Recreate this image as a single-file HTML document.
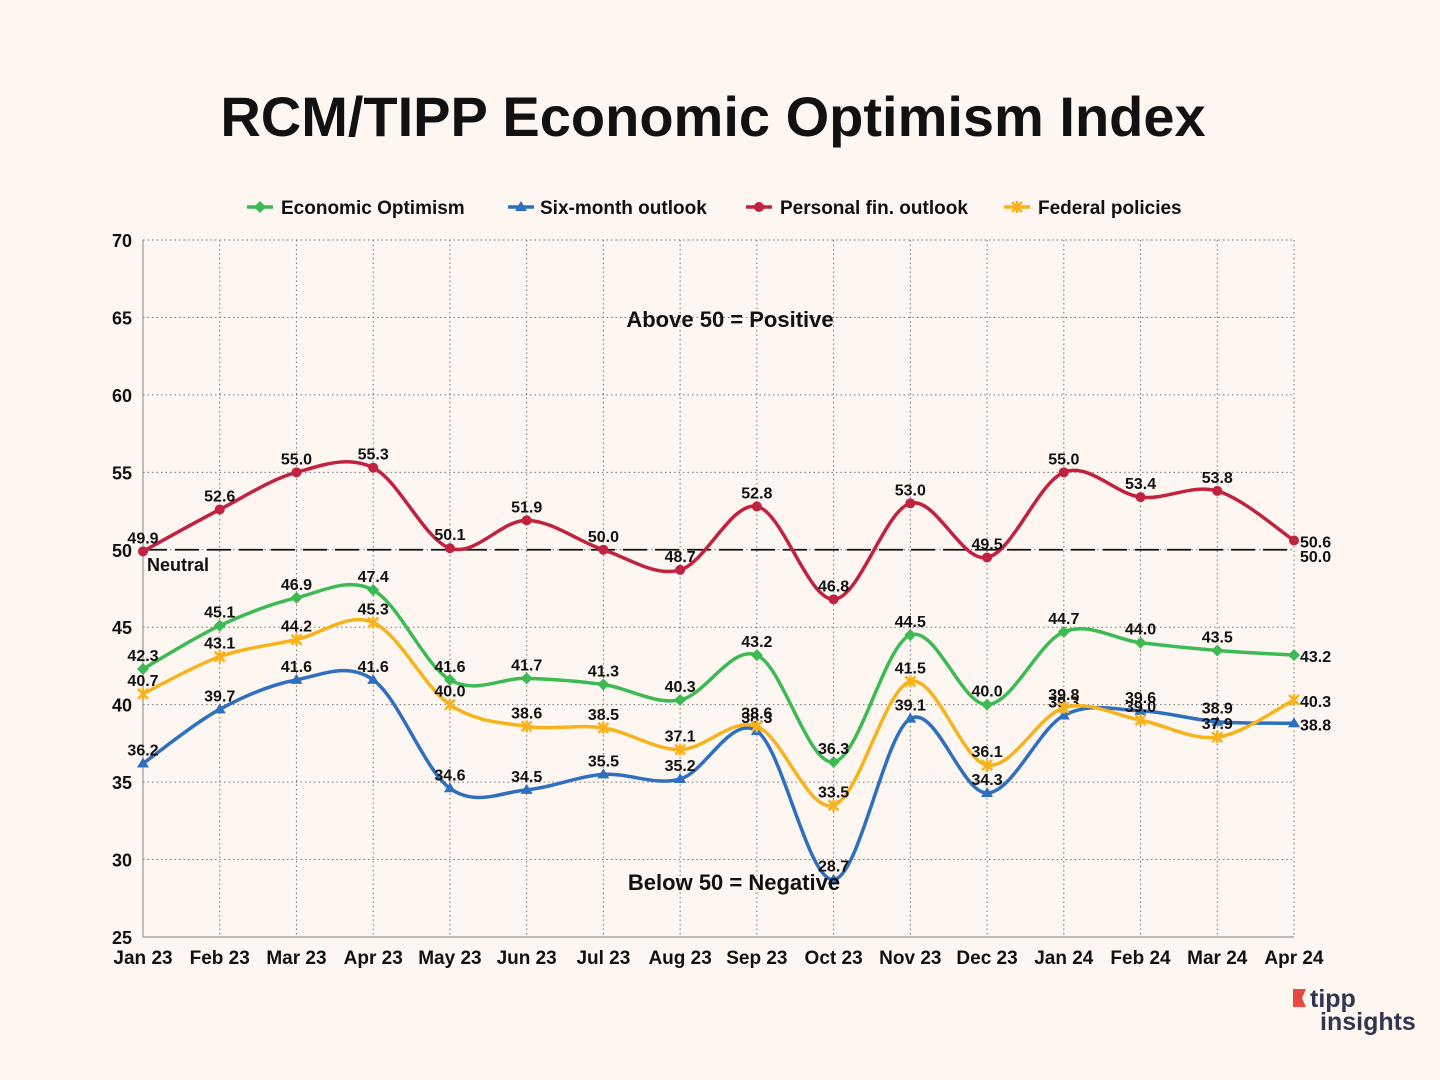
<!DOCTYPE html>
<html><head><meta charset="utf-8"><style>
body{margin:0;background:#fdf6f1;}
svg{display:block;font-family:"Liberation Sans",sans-serif;}
</style></head><body>
<svg width="1440" height="1080">
<rect width="1440" height="1080" fill="#fdf6f1"/>
<text x="713" y="136" text-anchor="middle" font-size="56" font-weight="bold" fill="#111">RCM/TIPP Economic Optimism Index</text>
<g id="grid"></g><g id="series"></g><g id="legend"></g>
<text x="730" y="327" text-anchor="middle" font-size="22" font-weight="bold" fill="#111">Above 50 = Positive</text>
<text x="734" y="890" text-anchor="middle" font-size="22" font-weight="bold" fill="#111">Below 50 = Negative</text>
<text x="147" y="571" font-size="18" font-weight="bold" fill="#111">Neutral</text>
<text x="1300" y="562" font-size="16" font-weight="bold" fill="#111">50.0</text>
<g>
<polygon points="1293,989 1306,989 1302,998 1306,1007 1293,1007" fill="#e8483f"/>
<text x="1310" y="1007" font-size="25" font-weight="bold" fill="#2f3650">tipp</text>
<text x="1320" y="1030" font-size="25" font-weight="bold" fill="#2f3650">insights</text>
</g>
</svg>
<script>
const categories=["Jan 23","Feb 23","Mar 23","Apr 23","May 23","Jun 23","Jul 23","Aug 23","Sep 23","Oct 23","Nov 23","Dec 23","Jan 24","Feb 24","Mar 24","Apr 24"];
const econ=[42.3,45.1,46.9,47.4,41.6,41.7,41.3,40.3,43.2,36.3,44.5,40.0,44.7,44.0,43.5,43.2];
const sixMonth=[36.2,39.7,41.6,41.6,34.6,34.5,35.5,35.2,38.3,28.7,39.1,34.3,39.3,39.6,38.9,38.8];
const personal=[49.9,52.6,55.0,55.3,50.1,51.9,50.0,48.7,52.8,46.8,53.0,49.5,55.0,53.4,53.8,50.6];
const federal=[40.7,43.1,44.2,45.3,40.0,38.6,38.5,37.1,38.6,33.5,41.5,36.1,39.8,39.0,37.9,40.3];
const yTicks=[25,30,35,40,45,50,55,60,65,70];
const NS="http://www.w3.org/2000/svg";
const X0=143,X1=1294,Y0=937,Y1=240;
const xS=i=>X0+i*(X1-X0)/(categories.length-1);
const yS=v=>Y0-(v-25)*(Y0-Y1)/45;
function mk(t,a,p){const e=document.createElementNS(NS,t);for(const k in a)e.setAttribute(k,a[k]);p.appendChild(e);return e;}
const grid=document.getElementById('grid');
yTicks.forEach(v=>{
 if(v>25){const l=mk('line',{x1:X0,x2:X1,y1:yS(v),y2:yS(v),stroke:'#777','stroke-dasharray':'1.5 3','stroke-width':1},grid);
 
 }
 const t=mk('text',{x:132,y:yS(v)+7,'text-anchor':'end','font-size':18,'font-weight':'bold',fill:'#111'},grid);t.textContent=v;
 
 
});
categories.forEach((c,i)=>{
 if(i>0){const l=mk('line',{x1:xS(i),x2:xS(i),y1:Y1,y2:Y0,stroke:'#777','stroke-dasharray':'1.5 3','stroke-width':1},grid);
 
 }
 const t=mk('text',{x:xS(i),y:964,'text-anchor':'middle','font-size':19,'font-weight':'bold',fill:'#111'},grid);t.textContent=c;
 
 
});
const ax=mk('path',{d:`M${X0},${Y1}V${Y0}H${X1}`,stroke:'#999',fill:'none','stroke-width':1.2},grid);


const nl=mk('line',{x1:X0,x2:X1,y1:yS(50),y2:yS(50),stroke:'#111','stroke-width':1.8,'stroke-dasharray':'24 8'},grid);


function smooth(pts){let d=`M${pts[0][0]},${pts[0][1]}`;for(let i=0;i<pts.length-1;i++){const p0=pts[i-1]||pts[i],p1=pts[i],p2=pts[i+1],p3=pts[i+2]||p2;const t=1/6;d+=`C${p1[0]+(p2[0]-p0[0])*t},${p1[1]+(p2[1]-p0[1])*t} ${p2[0]-(p3[0]-p1[0])*t},${p2[1]-(p3[1]-p1[1])*t} ${p2[0]},${p2[1]}`;}return d;}
function marker(g,x,y,type,col){
 if(type==='diamond')return mk('polygon',{points:`${x},${y-6} ${x+6},${y} ${x},${y+6} ${x-6},${y}`,fill:col},g);
 if(type==='tri')return mk('polygon',{points:`${x},${y-6} ${x+6},${y+4} ${x-6},${y+4}`,fill:col},g);
 if(type==='circle')return mk('circle',{cx:x,cy:y,r:5,fill:col},g);
 const p=mk('path',{d:`M${x-5},${y-5}L${x+5},${y+5}M${x+5},${y-5}L${x-5},${y+5}M${x},${y-6}V${y+6}`,stroke:col,'stroke-width':2.5},g);return p;
}
const S=[['economic-optimism',econ,'#3cba54','diamond','Economic Optimism'],['six-month-outlook',sixMonth,'#2f6fc0','tri','Six-month outlook'],['personal-fin-outlook',personal,'#c0223f','circle','Personal fin. outlook'],['federal-policies',federal,'#f8b21c','x','Federal policies']];
const sg=document.getElementById('series');
S.forEach(([name,vals,col,type])=>{
 const g=mk('g',{},sg);
 
 
 const pts=vals.map((v,i)=>[xS(i),yS(v)]);
 const p=mk('path',{d:smooth(pts),stroke:col,'stroke-width':3.5,fill:'none'},g);
 
 
 pts.forEach(([x,y],i)=>{
  const m=marker(g,x,y,type,col);
  
  
  const last=i===vals.length-1;
  const t=mk('text',{x:last?x+6:x,y:last?y+7:y-8,'text-anchor':last?'start':'middle','font-size':16,'font-weight':'bold',fill:'#111'},g);
  t.textContent=vals[i].toFixed(1);
  
  
 });
});
const lg=document.getElementById('legend');
const lx=[247,508,746,1004],lw=[281,540,780,1038];
S.forEach(([name,vals,col,type,label],i)=>{
 const g=mk('g',{},lg);
 
 
 mk('line',{x1:lx[i],x2:lx[i]+26,y1:207,y2:207,stroke:col,'stroke-width':3.5},g);
 marker(g,lx[i]+13,207,type,col);
 const t=mk('text',{x:lw[i],y:214,'font-size':19,'font-weight':'bold',fill:'#111'},g);t.textContent=label;
});
</script>
</body></html>
